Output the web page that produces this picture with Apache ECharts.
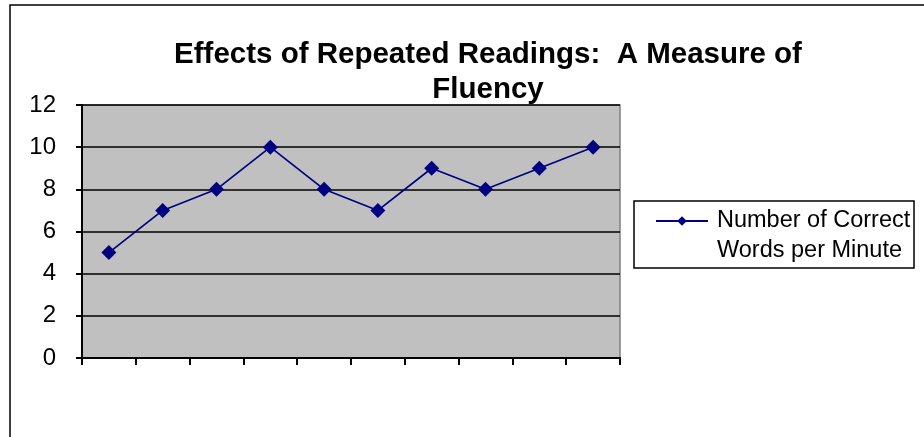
<!DOCTYPE html>
<html><head><meta charset="utf-8">
<script src="https://cdn.jsdelivr.net/npm/echarts@6/dist/echarts.min.js"></script>
<style>html,body{margin:0;padding:0;background:#fff}#c{width:924px;height:437px}</style>
</head><body><div id="c"></div>
<script>
var categories = ['1','2','3','4','5','6','7','8','9','10'];
var values = [5, 7, 8, 10, 8, 7, 9, 8, 9, 10];
var seriesName = 'Number of Correct Words per Minute';
var legendLabel = ' \nNumber of Correct\nWords per Minute';
var titleText = 'Effects of Repeated Readings:  A Measure of\nFluency';

var chart = echarts.init(document.getElementById('c'));
chart.setOption({
  animation: false,
  textStyle: {fontFamily: 'Liberation Sans, Arial, sans-serif'},
  graphic: [
    {type:'rect', shape:{x:10,y:5,width:1000,height:1000}, style:{fill:'none', stroke:'#000', lineWidth:1.5}, z:-1},
    {type:'rect', shape:{x:634,y:201,width:280,height:67}, style:{fill:'none', stroke:'#000', lineWidth:1.5}}
  ],
  title: {
    text: titleText, left: 488, top: 37, textAlign: 'center', padding: 0,
    textStyle: {fontSize: 29.5, fontWeight: 'bold', color: '#000', lineHeight: 35, fontFamily:'Liberation Sans, Arial, sans-serif'}
  },
  legend: {
    left: 655, top: 176, orient: 'vertical', padding: 0,
    itemWidth: 52, itemHeight: 12,
    formatter: function(){ return legendLabel; },
    textStyle: {fontSize: 23.5, color:'#000', lineHeight: 30, padding: [0, 0, 0, 4]}
  },
  grid: {left: 82, top: 105, width: 538, height: 253, show: true, backgroundColor: '#C0C0C0', borderColor: '#808080', borderWidth: 1.5},
  xAxis: {
    type: 'category', data: categories, boundaryGap: true,
    axisLine: {lineStyle: {color:'#000', width: 2}},
    axisTick: {show: true, length: 7, lineStyle:{color:'#000', width:2}},
    axisLabel: {show: false}, splitLine:{show:false}
  },
  yAxis: {
    type: 'value', min: 0, max: 12, interval: 2,
    axisLine: {show: true, lineStyle: {color:'#000', width: 2}},
    axisTick: {show: true, length: 6, lineStyle:{color:'#000', width:2}},
    axisLabel: {fontSize: 24, color:'#000', margin: 26},
    splitLine: {show: true, lineStyle: {color:'#000', width: 1.7}}
  },
  series: [{
    name: seriesName, type: 'line', data: values,
    symbol: 'diamond', symbolSize: 15,
    lineStyle: {color: '#000080', width: 1.7},
    itemStyle: {color: '#000080'}
  }]
});
</script></body></html>
